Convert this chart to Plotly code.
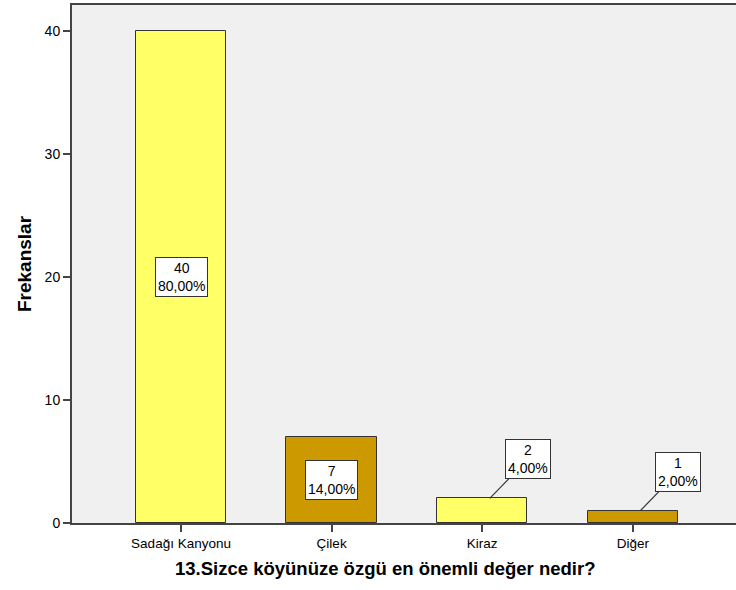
import plotly.graph_objects as go

categories = ["Sadağı Kanyonu", "Çilek", "Kiraz", "Diğer"]
counts = [40, 7, 2, 1]
percents = [80.0, 14.0, 4.0, 2.0]
bar_colors = ["#FFFF66", "#CC9900", "#FFFF66", "#CC9900"]
y_ticks = [0, 10, 20, 30, 40]
x_title = "13.Sizce köyünüze özgü en önemli değer nedir?"
y_title = "Frekanslar"

FONT = "Arial, Liberation Sans, sans-serif"
W, H = 745, 590
L, R, T, B = 72, 0, 5, 67

fig = go.Figure()
fig.add_trace(go.Bar(
    x=list(range(len(categories))),
    y=counts,
    width=0.6,
    marker=dict(color=bar_colors, line=dict(color="#333333", width=1)),
    hoverinfo="skip",
))

annotations = []
for i, (c, p) in enumerate(zip(counts, percents)):
    txt = f"{c}<br>{p:.2f}%".replace(".", ",")
    common = dict(
        text=txt, xref="x", yref="y",
        font=dict(family=FONT, size=14, color="#000000"),
        bgcolor="#FFFFFF", bordercolor="#333333", borderwidth=1, borderpad=2,
        align="center",
    )
    if c >= 5:
        annotations.append(dict(x=i, y=c / 2, showarrow=False, **common))
    else:
        annotations.append(dict(
            x=i + 0.05, y=c, showarrow=True, arrowhead=0, arrowwidth=1.2,
            arrowcolor="#333333", ax=38, ay=-39, standoff=0, **common))

# x-axis title, placed left of plot centre as in the original
annotations.append(dict(
    text=f"<b>{x_title}</b>", xref="paper", yref="paper",
    x=(385 - L) / (W - L - R), y=-(568 - (H - B)) / (H - T - B),
    xanchor="center", yanchor="middle", showarrow=False,
    font=dict(family=FONT, size=18.5, color="#000000"),
))

fig.update_layout(
    width=W, height=H,
    margin=dict(l=L, r=R, t=T, b=B, autoexpand=False),
    paper_bgcolor="#FFFFFF",
    plot_bgcolor="#F0F0F0",
    showlegend=False,
    bargap=0,
    annotations=annotations,
    font=dict(family=FONT, color="#000000"),
    xaxis=dict(
        range=[-0.724, 3.745],
        automargin=False,
        tickmode="array",
        tickvals=list(range(len(categories))),
        ticktext=categories,
        tickfont=dict(family=FONT, size=13.5, color="#000000"),
        ticks="outside", ticklen=7, tickwidth=2, tickcolor="#444444",
        showline=True, linecolor="#444444", linewidth=2, mirror=True,
        showgrid=False, zeroline=False,
    ),
    yaxis=dict(
        range=[0, 42.1],
        automargin=False,
        tickmode="array",
        tickvals=y_ticks,
        ticktext=[str(v) for v in y_ticks],
        tickfont=dict(family=FONT, size=14, color="#000000"),
        ticks="outside", ticklen=7, tickwidth=2, tickcolor="#444444",
        showline=True, linecolor="#444444", linewidth=2,
        showgrid=False, zeroline=False,
        title=dict(text=f"<b>{y_title}</b>",
                   font=dict(family=FONT, size=19, color="#000000"), standoff=8),
    ),
)

fig.write_html(
    "out.html",
    config={"displayModeBar": False},
    post_script="document.body.style.margin='0';document.body.style.overflow='hidden';",
)
